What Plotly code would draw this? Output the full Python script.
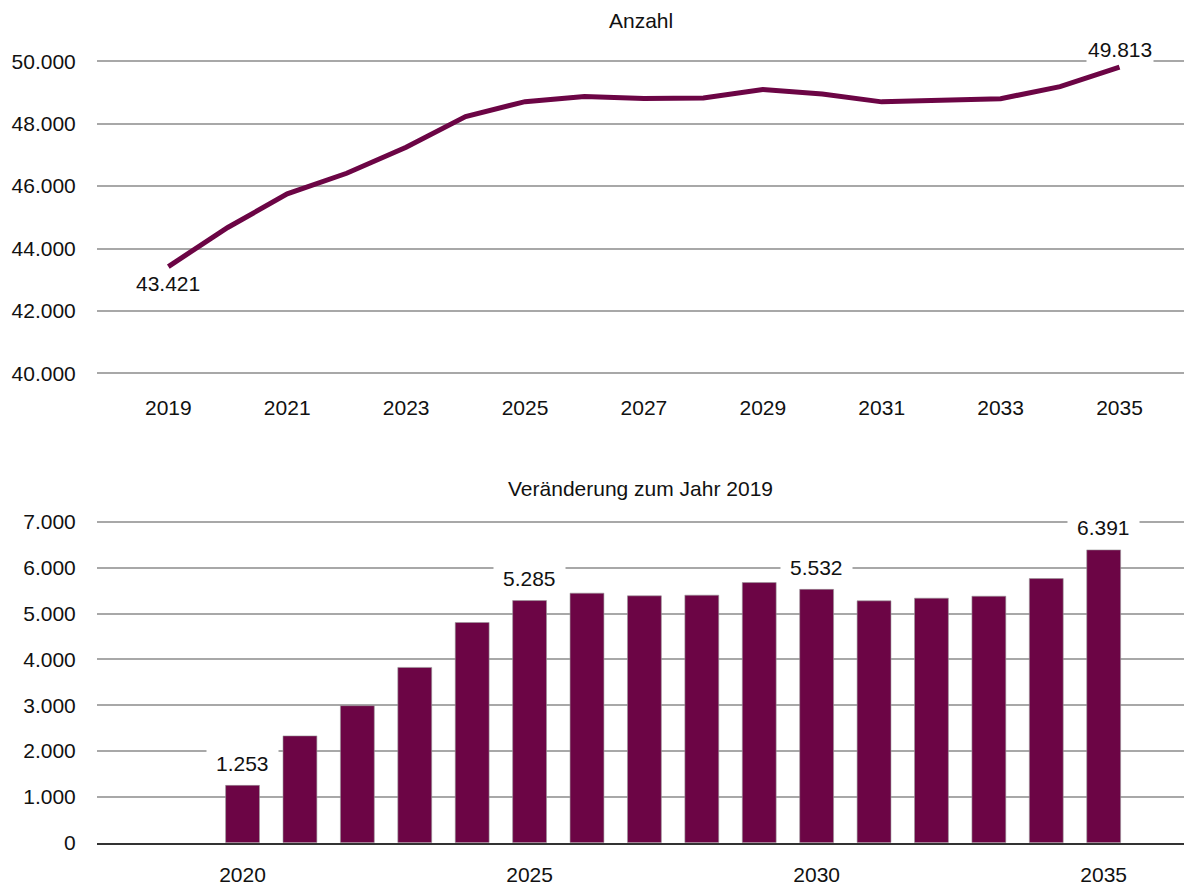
import plotly.graph_objects as go
from plotly.subplots import make_subplots

years = list(range(2019, 2036))
anzahl = [43421, 44674, 45752, 46412, 47247, 48227, 48706, 48868, 48809,
          48824, 49099, 48953, 48700, 48759, 48802, 49186, 49813]
bar_years = list(range(2020, 2036))
veraenderung = [1253, 2331, 2991, 3826, 4806, 5285, 5447, 5388, 5403,
                5678, 5532, 5279, 5338, 5381, 5765, 6391]

top_tickvals = list(range(2019, 2036, 2))
bottom_tickvals = [2020, 2025, 2030, 2035]
top_labels_years = [2019, 2035]
bottom_labels_years = [2020, 2025, 2030, 2035]

title_top = "Anzahl"
title_bottom = "Veränderung zum Jahr 2019"

COLOR = "#6C0545"
FONT = "Liberation Sans, Arial, sans-serif"
FS = 21


def de(v):
    return f"{v:,}".replace(",", ".")


fig = make_subplots(rows=2, cols=1)

fig.add_trace(go.Scatter(x=years, y=anzahl, mode="lines",
                         line=dict(color=COLOR, width=5),
                         hoverinfo="skip", showlegend=False), row=1, col=1)
fig.add_trace(go.Bar(x=bar_years, y=veraenderung, width=0.59,
                     marker=dict(color=COLOR, line=dict(color="#9a9a9a", width=0.6)),
                     hoverinfo="skip", showlegend=False), row=2, col=1)

W, H = 1184, 886
PX_TOP = 31.2 / 1000.0   # pixels per unit, top panel
PX_BOT = 320.7 / 7000.0  # pixels per unit, bottom panel
fig.update_layout(
    template="none",
    width=W, height=H,
    margin=dict(l=97, r=0, t=0, b=0, pad=0),
    paper_bgcolor="white", plot_bgcolor="white",
    separators=",.",
    font=dict(family=FONT, size=FS, color="#111111"),
    xaxis=dict(domain=[0, 1], range=[2017.8, 2036.085], tickvals=top_tickvals,
               showgrid=False, zeroline=False, showline=False, automargin=False,
               ticks="outside", ticklen=12, tickcolor="rgba(0,0,0,0)"),
    yaxis=dict(domain=[1 - (373.3 + 100 * PX_TOP) / H, 1 - (61.3 - 100 * PX_TOP) / H],
               range=[39900, 50100],
               dtick=2000, tick0=40000, tickformat=",d", showgrid=True, gridcolor="#a8a8a8",
               gridwidth=1.5, zeroline=False, showline=False, automargin=False,
               ticks="outside", ticklen=16, tickcolor="rgba(0,0,0,0)"),
    xaxis2=dict(domain=[0, 1], range=[2017.465, 2036.399], tickvals=bottom_tickvals,
                showgrid=False, zeroline=False, showline=True, automargin=False,
                linecolor="#333333", linewidth=2,
                ticks="outside", ticklen=12, tickcolor="rgba(0,0,0,0)"),
    yaxis2=dict(domain=[1 - 842.7 / H, 1 - (522 - 70 * PX_BOT) / H], range=[0, 7070],
                dtick=1000, tickformat=",d", showgrid=True, gridcolor="#a8a8a8",
                gridwidth=1.5, zeroline=False, showline=False, automargin=False,
                ticks="outside", ticklen=16, tickcolor="rgba(0,0,0,0)"),
)

ann = []
ann.append(dict(text=title_top, xref="paper", yref="paper", x=0.5, y=1 - 21 / H,
                xanchor="center", yanchor="middle", showarrow=False))
ann.append(dict(text=title_bottom, xref="paper", yref="paper", x=0.5, y=1 - 488.5 / H,
                xanchor="center", yanchor="middle", showarrow=False))

for yr in top_labels_years:
    v = anzahl[years.index(yr)]
    shift = -17 if yr == years[0] else 18
    ann.append(dict(text=de(v), xref="x", yref="y", x=yr, y=v, xanchor="center",
                    yanchor="middle", yshift=shift, showarrow=False,
                    bgcolor="white", borderpad=1))

for yr in bottom_labels_years:
    v = veraenderung[bar_years.index(yr)]
    ann.append(dict(text=de(v), xref="x2", yref="y2", x=yr, y=v, xanchor="center",
                    yanchor="middle", yshift=22, showarrow=False,
                    bgcolor="white", borderpad=9))

fig.update_layout(annotations=ann)

fig.write_html("out.html", config={"displayModeBar": False},
               post_script="document.body.style.margin='0';document.body.style.overflow='hidden';")
